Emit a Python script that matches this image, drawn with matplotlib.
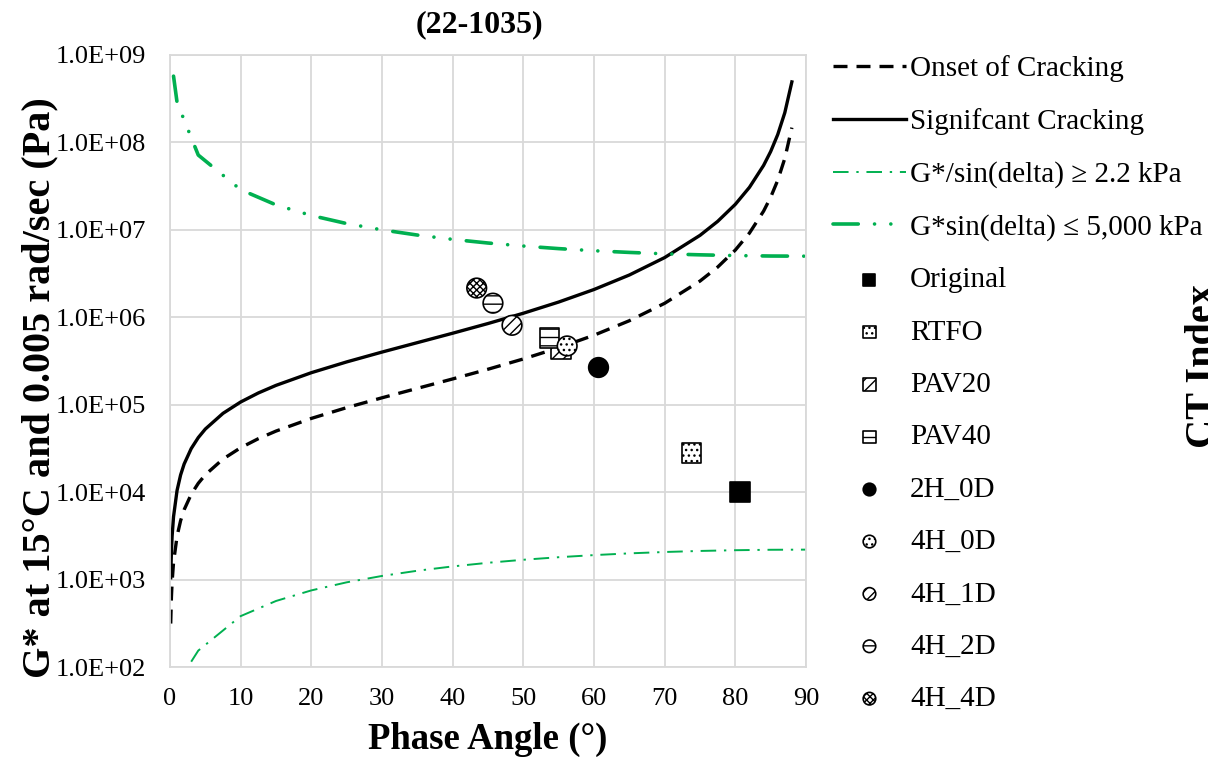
import matplotlib.pyplot as plt
from matplotlib.ticker import FixedLocator, FuncFormatter

plt.rcParams['font.family'] = ['Liberation Serif', 'DejaVu Serif']
plt.rcParams['hatch.linewidth'] = 1.0

# Glover-Rowe style cracking curves: phase angle (deg) vs G* (Pa)
crack_angle = [0.1, 0.2, 0.3, 0.5, 1, 1.5, 2, 3, 4, 5, 7.5, 10, 12.5, 15, 20, 25, 30,
               35, 40, 45, 50, 55, 60, 65, 70, 75, 77.5, 80, 82, 84, 85, 86, 87, 88]
onset_g = [314, 628, 943, 1571, 3142, 4715, 6290, 9446, 12618, 15808, 23902, 32228,
           40874, 49932, 69719, 92612, 120000, 153863, 197166, 254558, 333727, 448182,
           623538, 913377, 1445954, 2595528, 3751200, 5878620, 9202680, 16383600,
           23607000, 36900000, 65628000, 147690000]
significant_g = [1047, 2094, 3142, 5236, 10475, 15717, 20965, 31488, 42059, 52694, 79673,
                 107428, 136248, 166441, 232397, 308707, 400000, 512877, 657220, 848528,
                 1112424, 1493939, 2078461, 3044591, 4819846, 8651760, 12504000, 19595400,
                 30675600, 54612000, 78690000, 123000000, 218760000, 492300000]

# Superpave limits
low_angle = [3, 4, 10, 15, 20, 25, 30, 35, 40, 45, 50, 55, 60, 65, 70, 75, 80, 85, 90]
low_g = [115, 154, 382, 569, 752, 930, 1100, 1262, 1414, 1556, 1685, 1802, 1905, 1994,
         2067, 2125, 2167, 2192, 2200]
high_angle = [0.5, 1, 4, 10, 15, 20, 25, 30, 35, 40, 45, 50, 55, 60, 65, 70, 75, 80, 85, 90]
high_g = [5.73e8, 2.865e8, 7.17e7, 2.88e7, 1.93e7, 1.46e7, 1.18e7, 1.0e7, 8.72e6, 7.78e6,
          7.07e6, 6.53e6, 6.10e6, 5.77e6, 5.52e6, 5.32e6, 5.18e6, 5.08e6, 5.02e6, 5.0e6]

# aging conditions
samples = ['Original', 'RTFO', 'PAV20', 'PAV40', '2H_0D', '4H_0D', '4H_1D', '4H_2D', '4H_4D']
sample_angle = [80.6, 73.8, 55.3, 53.7, 60.5, 56.2, 48.4, 45.7, 43.4]
sample_g = [1.0e4, 2.8e4, 4.3e5, 5.8e5, 2.7e5, 4.7e5, 8.1e5, 1.45e6, 2.16e6]

markers = ['s', 's', 's', 's', 'o', 'o', 'o', 'o', 'o']
fills = ['black', 'white', 'white', 'white', 'black', 'white', 'white', 'white', 'white']
hatches = [None, '...', '///', '--', None, '...', '///', '--', 'xxxxx']

green = '#00B050'
grid_c = '#d9d9d9'

fig = plt.figure(figsize=(12.08, 7.57), dpi=100)
ax = fig.add_axes([170 / 1208, 1 - 667 / 757, 636 / 1208, 612 / 757])

handles = []
h, = ax.plot(crack_angle, onset_g, color='black', lw=2.4, dashes=(4.2, 2.7),
             label='Onset of Cracking')
handles.append(h)
h, = ax.plot(crack_angle, significant_g, color='black', lw=2.4, label='Signifcant Cracking')
handles.append(h)
h, = ax.plot(low_angle, low_g, color=green, lw=1.4, dashes=(8, 4, 1.2, 4),
             label='G*/sin(delta) \u2265 2.2 kPa')
handles.append(h)
h, = ax.plot(high_angle, high_g, color=green, lw=2.6, dashes=(7, 4.5, 0.01, 4.5, 0.01, 4.5),
             dash_capstyle='round', label='G*sin(delta) \u2264 5,000 kPa')
handles.append(h)

for i, name in enumerate(samples):
    sc = ax.scatter([sample_angle[i]], [sample_g[i]], s=200, marker=markers[i],
                    facecolor=fills[i], edgecolor='black', linewidth=1.2,
                    hatch=hatches[i], zorder=5 + i, label=name)
    handles.append(sc)

ax.set_yscale('log')
ax.set_xlim(0, 90)
ax.set_ylim(1e2, 1e9)
ax.xaxis.set_major_locator(FixedLocator(range(0, 91, 10)))
ax.yaxis.set_major_locator(FixedLocator([10.0 ** k for k in range(2, 10)]))
ax.yaxis.set_minor_locator(FixedLocator([]))
ax.yaxis.set_major_formatter(FuncFormatter(lambda v, p: f'{v:.1E}'))
ax.grid(True, color=grid_c, lw=1.3)
ax.set_axisbelow(True)
for sp in ax.spines.values():
    sp.set_color(grid_c)
    sp.set_linewidth(1.3)
ax.tick_params(axis='both', length=0, labelsize=19)
ax.tick_params(axis='y', pad=17)
ax.tick_params(axis='x', pad=15)

ax.set_xlabel('Phase Angle (\u00b0)', fontsize=26.5, fontweight='bold', labelpad=9)
ax.set_ylabel('G* at 15\u00b0C and 0.005 rad/sec (Pa)', fontsize=29, fontweight='bold')
ax.yaxis.set_label_coords(-0.175, 0.456)

fig.text(479 / 1208, 1 - 25 / 757, '(22-1035)', fontsize=23, fontweight='bold',
         ha='center', va='center')
fig.text(1185 / 1208, 1 - 366 / 757, 'CT Index', fontsize=29, fontweight='bold',
         rotation=90, ha='left', va='center')

fig.legend(handles=handles, loc='upper left', bbox_to_anchor=(833 / 1208, 0.927),
           frameon=False, fontsize=21, handlelength=2.5, handletextpad=0.14,
           labelspacing=0.89, borderpad=0, borderaxespad=0, markerscale=0.64)

fig.savefig('out.png', dpi=100)
